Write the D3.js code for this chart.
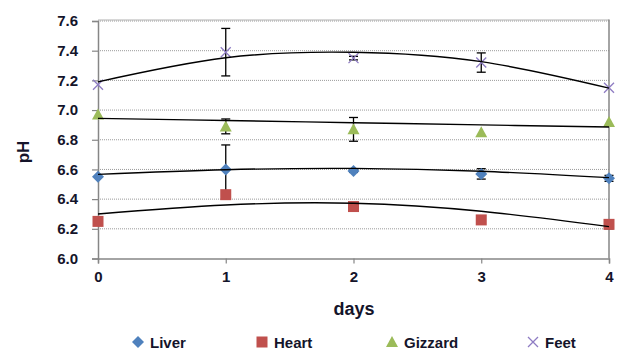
<!DOCTYPE html>
<html><head><meta charset="utf-8">
<script src="https://cdn.jsdelivr.net/npm/d3@7"></script>
<style>body{margin:0;background:#fff}svg{display:block}text{font-family:"Liberation Sans",Arial,sans-serif;font-weight:bold;fill:#14142a}</style>
</head><body><svg id="c" width="624" height="352"></svg>
<script>
const days = [0, 1, 2, 3, 4];
const yTicks = [6.0, 6.2, 6.4, 6.6, 6.8, 7.0, 7.2, 7.4, 7.6];
const seriesNames = ["Liver", "Heart", "Gizzard", "Feet"];
const liver = [6.55, 6.60, 6.59, 6.57, 6.54];
const liverErr = [0, 0.165, 0.01, 0.035, 0.02];
const liverTrend = [6.567, 6.598, 6.607, 6.588, 6.545];
const heart = [6.25, 6.43, 6.35, 6.26, 6.23];
const heartErr = [0, 0, 0, 0, 0.03];
const heartTrend = [6.30, 6.36, 6.372, 6.318, 6.215];
const gizzard = [6.97, 6.89, 6.87, 6.85, 6.92];
const gizzardErr = [0, 0.05, 0.08, 0, 0];
const gizzardTrend = [6.944, 6.930, 6.915, 6.900, 6.886];
const feet = [7.17, 7.39, 7.35, 7.32, 7.15];
const feetErr = [0, 0.16, 0.012, 0.065, 0];
const feetTrend = [7.19, 7.352, 7.389, 7.326, 7.148];

const colors = {Liver:"#4F81BD", Heart:"#C0504D", Gizzard:"#9BBB59", Feet:"#8E7CC3"};
const series = [
  {name:"Liver", v:liver, e:liverErr, t:liverTrend},
  {name:"Heart", v:heart, e:heartErr, t:heartTrend},
  {name:"Gizzard", v:gizzard, e:gizzardErr, t:gizzardTrend},
  {name:"Feet", v:feet, e:feetErr, t:feetTrend}
];

const svg = d3.select("#c");
const x = d3.scaleLinear().domain([0, 4]).range([98, 609]);
const y = d3.scaleLinear().domain([6.0, 7.6]).range([258.5, 21]);

// gridlines
svg.append("g").selectAll("line").data(yTicks.filter(d => d > 6.0)).join("line")
  .attr("x1", x(0)).attr("x2", x(4)).attr("y1", d => y(d)).attr("y2", d => y(d))
  .attr("stroke", "#9a9a9a").attr("stroke-width", 1).attr("stroke-dasharray", "1,1");
// top border
svg.append("line").attr("x1", x(0)).attr("x2", x(4)).attr("y1", y(7.6) - 1).attr("y2", y(7.6) - 1)
  .attr("stroke", "#b0b0b0").attr("stroke-width", 1);
// right border
svg.append("line").attr("x1", x(4)).attr("x2", x(4)).attr("y1", y(7.6) - 1.5).attr("y2", y(6.0))
  .attr("stroke", "#868686").attr("stroke-width", 1.5);

// axes
const yAxis = svg.append("g").attr("transform", `translate(${x(0)},0)`)
  .call(d3.axisLeft(y).tickValues(yTicks).tickFormat(d3.format(".1f")).tickSize(6).tickPadding(14));
const xAxis = svg.append("g").attr("transform", `translate(0,${y(6.0)})`)
  .call(d3.axisBottom(x).tickValues(days).tickFormat(d3.format("d")).tickSize(5).tickPadding(8));
[yAxis, xAxis].forEach(a => {
  a.select(".domain").attr("stroke", "#868686").attr("stroke-width", 1.5);
  a.selectAll(".tick line").attr("stroke", "#868686").attr("stroke-width", 1.2);
  a.selectAll("text").style("font-size", "15px").style("font-family", "Liberation Sans, Arial, sans-serif").style("font-weight", "bold").attr("fill", "#14142a");
});

// axis titles
svg.append("text").attr("x", 354).attr("y", 315).attr("text-anchor", "middle").style("font-size", "18px").text("days");
svg.append("text").attr("transform", "translate(29,152) rotate(-90)").attr("text-anchor", "middle").style("font-size", "17px").text("pH");

function marker(g, name, cx, cy) {
  const c = colors[name];
  if (name === "Liver") {
    g.append("path").attr("d", `M${cx},${cy-6}L${cx+6},${cy}L${cx},${cy+6}L${cx-6},${cy}Z`).attr("fill", c);
  } else if (name === "Heart") {
    g.append("rect").attr("x", cx-5.5).attr("y", cy-5.5).attr("width", 11).attr("height", 11).attr("fill", c);
  } else if (name === "Gizzard") {
    g.append("path").attr("d", `M${cx},${cy-6}L${cx+6},${cy+5}L${cx-6},${cy+5}Z`).attr("fill", c);
  } else {
    g.append("path").attr("d", `M${cx-5},${cy-5}L${cx+5},${cy+5}M${cx+5},${cy-5}L${cx-5},${cy+5}`)
      .attr("stroke", c).attr("stroke-width", 1.3).attr("fill", "none");
  }
}

const plot = svg.append("g");
// per series: error bars, then markers
series.forEach(s => {
  const g = plot.append("g");
  s.v.forEach((v, i) => {
    const e = s.e[i];
    if (!e) return;
    const cx = x(days[i]);
    g.append("line").attr("x1", cx).attr("x2", cx).attr("y1", y(v + e)).attr("y2", y(v - e)).attr("stroke", "#000").attr("stroke-width", 1.3);
    [v + e, v - e].forEach(w => g.append("line").attr("x1", cx - 4.5).attr("x2", cx + 4.5).attr("y1", y(w)).attr("y2", y(w)).attr("stroke", "#000").attr("stroke-width", 1.3));
  });
  s.v.forEach((v, i) => marker(g, s.name, x(days[i]), y(v)));
});
// trend lines
const line = d3.line().x((d, i) => x(days[i])).y(d => y(d)).curve(d3.curveNatural);
series.forEach(s => {
  plot.append("path").attr("d", line(s.t)).attr("fill", "none").attr("stroke", "#000").attr("stroke-width", 1.4);
});

// legend
const legendX = [138, 262, 392, 533];
const leg = svg.append("g");
seriesNames.forEach((n, i) => {
  marker(leg, n, legendX[i], 342);
  leg.append("text").attr("x", legendX[i] + 12).attr("y", 348).style("font-size", "15px").text(n);
});
</script></body></html>
